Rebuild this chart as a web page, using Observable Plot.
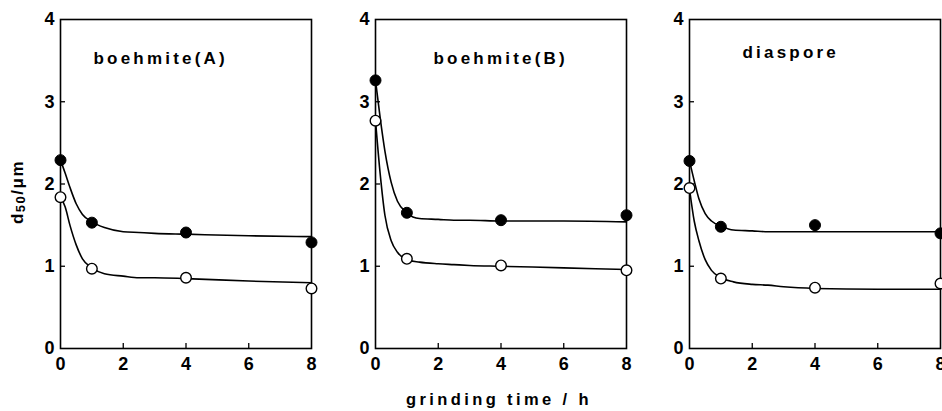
<!DOCTYPE html>
<html>
<head>
<meta charset="utf-8">
<script src="https://cdn.jsdelivr.net/npm/d3@7"></script>
<script src="https://cdn.jsdelivr.net/npm/@observablehq/plot@0.6"></script>
<style>
  body { margin: 0; background: white; overflow: hidden; }
  #wrap { position: relative; width: 942px; height: 411px; overflow: hidden; background: white;
          font-family: "Liberation Sans", Arial, sans-serif; font-weight: bold; }
  .panel { position: absolute; top: 0; }
  .panel svg { max-width: none !important; }
  .panel svg g[aria-label="text"] text { letter-spacing: 3.2px; }
  #xlabel { position: absolute; left: 499px; top: 390px; transform: translateX(-50%);
            font-size: 16.5px; letter-spacing: 3.4px; white-space: nowrap; }
  #ylabel { position: absolute; left: 18px; top: 192px; transform: translate(-50%,-50%) rotate(-90deg);
            font-size: 17px; letter-spacing: 1.5px; white-space: nowrap; }
  #ylabel sub { font-size: 13px; vertical-align: -2px; }
</style>
</head>
<body>
<div id="wrap">
  <div id="ylabel">d<sub>50</sub>/μm</div>
  <div id="xlabel">grinding time / h</div>
</div>
<script>
// measured grinding times (h)
const time = [0, 1, 4, 8];

// panel titles
const titles = ["boehmite(A)", "boehmite(B)", "diaspore"];

// data points: d50 (µm)
const filledA = [2.29, 1.53, 1.41, 1.29];
const openA   = [1.84, 0.97, 0.86, 0.73];
const filledB = [3.26, 1.65, 1.56, 1.62];
const openB   = [2.77, 1.09, 1.01, 0.95];
const filledD = [2.28, 1.48, 1.50, 1.40];
const openD   = [1.95, 0.85, 0.74, 0.79];

// fitted curves
const curveTime    = [0, 0.15, 0.3, 0.5, 0.7, 1, 1.4, 2, 2.5, 3, 4, 6, 8];
const curveFilledA = [2.29, 2.13, 1.96, 1.76, 1.63, 1.54, 1.47, 1.42, 1.41, 1.40, 1.39, 1.37, 1.36];
const curveOpenA   = [1.84, 1.72, 1.50, 1.26, 1.09, 0.98, 0.91, 0.88, 0.86, 0.86, 0.85, 0.82, 0.80];
const curveFilledB = [3.26, 2.80, 2.40, 2.02, 1.79, 1.65, 1.58, 1.57, 1.56, 1.56, 1.55, 1.55, 1.54];
const curveOpenB   = [2.77, 2.12, 1.62, 1.31, 1.17, 1.08, 1.05, 1.03, 1.02, 1.01, 1.00, 0.98, 0.96];
const curveFilledD = [2.28, 2.04, 1.82, 1.64, 1.55, 1.49, 1.44, 1.43, 1.42, 1.42, 1.42, 1.42, 1.42];
const curveOpenD   = [1.94, 1.55, 1.31, 1.08, 0.95, 0.86, 0.81, 0.78, 0.77, 0.75, 0.73, 0.72, 0.72];

// axis ticks
const yTickLabels = [0, 1, 2, 3, 4];
const yInnerTicks = [1, 2, 3];
const xTickLabels = [0, 2, 4, 6, 8];
const xInnerTicks = [2, 4, 6];

const panels = [
  {title: titles[0], filled: filledA, open: openA, cf: curveFilledA, co: curveOpenA, frameLeft: 60, titleDx: 33, titleDy: 39},
  {title: titles[1], filled: filledB, open: openB, cf: curveFilledB, co: curveOpenB, frameLeft: 375, titleDx: 58, titleDy: 39},
  {title: titles[2], filled: filledD, open: openD, cf: curveFilledD, co: curveOpenD, frameLeft: 689, titleDx: 53, titleDy: 33}
];

const ML = 40, MR = 20, PW = 251;
const wrap = document.getElementById("wrap");
const fmt = d => String(d);

for (const p of panels) {
  const pts = (vals) => time.map((t, i) => ({t, v: vals[i]}));
  const crv = (vals) => curveTime.map((t, i) => ({t, v: vals[i]}));
  const chart = Plot.plot({
    width: ML + PW + MR,
    height: 375,
    marginLeft: ML,
    marginRight: MR,
    marginTop: 19,
    marginBottom: 27,
    style: {fontFamily: '"Liberation Sans", Arial, sans-serif', fontSize: "18px", fontWeight: "bold", background: "transparent", overflow: "visible", color: "black"},
    x: {domain: [0, 8]},
    y: {domain: [0, 4]},
    marks: [
      Plot.axisY(yTickLabels, {anchor: "left", tickSize: 0, tickPadding: 6, label: null, tickFormat: fmt, fontSize: 18, fontWeight: "bold"}),
      Plot.axisY(yInnerTicks, {anchor: "left", tickSize: -5, text: null, label: null, strokeWidth: 1.3}),
      Plot.axisX(xTickLabels, {anchor: "bottom", tickSize: 0, tickPadding: 9, label: null, tickFormat: fmt, fontSize: 18, fontWeight: "bold"}),
      Plot.axisX(xInnerTicks, {anchor: "bottom", tickSize: -5, text: null, label: null, strokeWidth: 1.3}),
      Plot.line(crv(p.cf), {x: "t", y: "v", curve: "monotone-x", stroke: "black", strokeWidth: 1.6}),
      Plot.line(crv(p.co), {x: "t", y: "v", curve: "monotone-x", stroke: "black", strokeWidth: 1.6}),
      Plot.frame({stroke: "black", strokeWidth: 1.6}),
      Plot.dot(pts(p.filled), {x: "t", y: "v", r: 5.5, fill: "black", stroke: "black", strokeWidth: 1}),
      Plot.dot(pts(p.open), {x: "t", y: "v", r: 5.3, fill: "white", stroke: "black", strokeWidth: 1.4}),
      Plot.text([p.title], {frameAnchor: "top-left", dx: p.titleDx, dy: p.titleDy, textAnchor: "start", lineAnchor: "middle", fontSize: 17, fontWeight: "bold", fill: "black"})
    ]
  });
  const holder = document.createElement("div");
  holder.className = "panel";
  holder.style.left = (p.frameLeft - ML) + "px";
  holder.style.width = (ML + PW + MR) + "px";
  holder.appendChild(chart);
  wrap.appendChild(holder);
}
</script>
</body>
</html>
